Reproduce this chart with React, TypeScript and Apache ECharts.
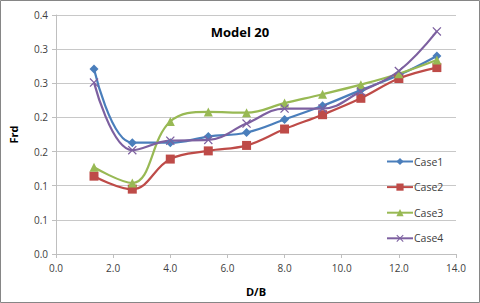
import React, { useEffect, useRef } from "react";
import * as echarts from "echarts";

const xValues = [1.33, 2.67, 4.0, 5.33, 6.67, 8.0, 9.33, 10.67, 12.0, 13.33];
const case1 = [0.271, 0.163, 0.163, 0.172, 0.178, 0.197, 0.217, 0.24, 0.262, 0.29];
const case2 = [0.114, 0.095, 0.139, 0.151, 0.159, 0.183, 0.204, 0.228, 0.257, 0.273];
const case3 = [0.127, 0.104, 0.194, 0.208, 0.207, 0.221, 0.234, 0.248, 0.264, 0.284];
const case4 = [0.251, 0.152, 0.166, 0.167, 0.191, 0.213, 0.213, 0.238, 0.268, 0.326];
const seriesNames = ["Case1", "Case2", "Case3", "Case4"];
const colors = ["#4A7EBB", "#BE4B48", "#98B954", "#7D60A0"];
const symbols = [
  "diamond",
  "rect",
  "triangle",
  "path://M0,1L1,0L5,4L9,0L10,1L6,5L10,9L9,10L5,6L1,10L0,9L4,5Z",
];
const symbolSizes = [9, 9, 9, 9];

const FONT = "'Open Sans', 'Noto Sans', sans-serif";

export default function App() {
  const ref = useRef<HTMLDivElement>(null);
  useEffect(() => {
    if (!ref.current) return;
    const chart = echarts.init(ref.current, undefined, { renderer: "svg" });
    const all = [case1, case2, case3, case4];
    const fmt = (v: number) => (Math.round(v * 10 + 1e-6) / 10).toFixed(1);
    chart.setOption({
      animation: false,
      backgroundColor: "#ffffff",
      title: {
        text: "Model 20",
        left: "center",
        top: 20,
        textStyle: { fontFamily: FONT, fontSize: 13, fontWeight: "bold", color: "#000" },
      },
      grid: { left: 54, right: 24, top: 15, bottom: 49 },
      legend: {
        orient: "vertical",
        left: 381,
        top: 151,
        itemWidth: 26,
        itemHeight: 9,
        itemGap: 14.6,
        textStyle: { fontFamily: FONT, fontSize: 10.5, color: "#404040", padding: [0, 0, 0, -4] },
        data: seriesNames,
      },
      xAxis: {
        type: "value",
        min: 0,
        max: 14,
        interval: 2,
        name: "D/B",
        nameLocation: "middle",
        nameGap: 32,
        nameTextStyle: { fontFamily: FONT, fontSize: 11, fontWeight: "bold", color: "#000" },
        axisLine: { lineStyle: { color: "#BFBFBF" } },
        axisTick: { show: true, length: 4, lineStyle: { color: "#BFBFBF" } },
        splitLine: { show: false },
        axisLabel: {
          fontFamily: FONT,
          fontSize: 10,
          color: "#404040",
          margin: 9,
          formatter: (v: number) => v.toFixed(1),
        },
      },
      yAxis: {
        type: "value",
        min: 0,
        max: 0.35,
        interval: 0.05,
        name: "Frd",
        nameLocation: "middle",
        nameRotate: 90,
        nameGap: 37,
        nameTextStyle: { fontFamily: FONT, fontSize: 11, fontWeight: "bold", color: "#000" },
        axisLine: { show: true, lineStyle: { color: "#BFBFBF" } },
        axisTick: { show: true, length: 4, lineStyle: { color: "#BFBFBF" } },
        splitLine: { show: true, lineStyle: { color: "#C8C8C8", width: 1 } },
        axisLabel: {
          fontFamily: FONT,
          fontSize: 10,
          color: "#404040",
          margin: 8,
          formatter: fmt,
        },
      },
      series: seriesNames.map((name, i) => ({
        name,
        type: "line",
        smooth: 0.4,
        data: xValues.map((x, j) => [x, all[i][j]]),
        symbol: symbols[i],
        symbolSize: symbolSizes[i],
        lineStyle: { color: colors[i], width: 2.2 },
        itemStyle: { color: colors[i] },
      })),
      graphic: [
        {
          type: "rect",
          shape: { x: 0.5, y: 0.5, width: 479, height: 302 },
          style: { fill: "none", stroke: "#868686", lineWidth: 1 },
          silent: true,
        },
      ],
    });
    return () => chart.dispose();
  }, []);
  return (
    <div
      ref={ref}
      style={{ position: "fixed", left: 0, top: 0, width: 480, height: 303 }}
    />
  );
}
